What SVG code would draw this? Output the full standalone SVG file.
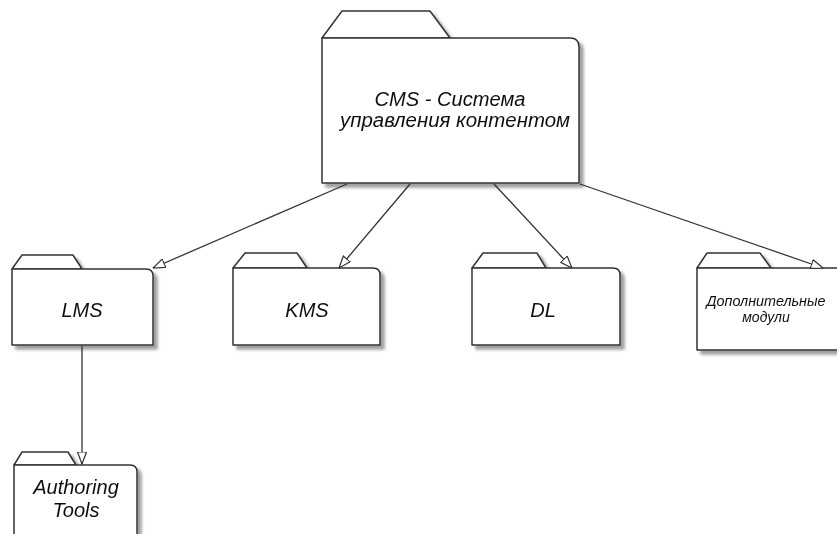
<svg xmlns="http://www.w3.org/2000/svg" width="837" height="534" viewBox="0 0 837 534">
<defs>
<filter id="sh" x="-10%" y="-10%" width="130%" height="130%">
<feGaussianBlur in="SourceAlpha" stdDeviation="1.8" result="b"/>
<feOffset in="b" dx="4" dy="4" result="o"/>
<feFlood flood-color="#777" flood-opacity="0.7"/>
<feComposite in2="o" operator="in" result="s"/>
<feMerge><feMergeNode in="s"/><feMergeNode in="SourceGraphic"/></feMerge>
</filter>
<marker id="arr" viewBox="0 0 13 10" refX="12.5" refY="5" markerWidth="13" markerHeight="10" orient="auto" markerUnits="userSpaceOnUse">
<path d="M0.5,0.5 L12.5,5 L0.5,9.5 Z" fill="#fff" stroke="#333" stroke-width="1.2"/>
</marker>
</defs>
<style>
.f path{fill:#fff;stroke:#333;stroke-width:1.5;stroke-linejoin:round}
.t{font-family:"Liberation Sans",Arial,sans-serif;font-style:italic;fill:#111;text-anchor:middle}
.c line{stroke:#333;stroke-width:1.3}
</style>
<rect width="837" height="534" fill="#fff"/>
<g id="cms" class="f" filter="url(#sh)">
<path d="M322,38 L342,11 L430,11 L450,38 Z"/>
<path d="M322,38 H570 Q579,38 579,47 V183 H322 Z"/>
<text class="t" x="450" y="106" font-size="20" textLength="151" lengthAdjust="spacingAndGlyphs">CMS - Система</text>
<text class="t" x="455" y="127" font-size="20" textLength="230" lengthAdjust="spacingAndGlyphs">управления контентом</text>
</g>
<g id="lms" class="f" filter="url(#sh)">
<path d="M12,269 L22,255 L73,255 L82,269 Z"/>
<path d="M12,269 H146 Q153,269 153,276 V345 H12 Z"/>
<text class="t" x="82" y="317" font-size="20">LMS</text>
</g>
<g id="kms" class="f" filter="url(#sh)">
<path d="M233,268 L245,253 L297,253 L307,268 Z"/>
<path d="M233,268 H373 Q380,268 380,275 V345 H233 Z"/>
<text class="t" x="307" y="317" font-size="20">KMS</text>
</g>
<g id="dl" class="f" filter="url(#sh)">
<path d="M472,268 L483,253 L537,253 L546,268 Z"/>
<path d="M472,268 H613 Q620,268 620,275 V345 H472 Z"/>
<text class="t" x="543" y="317" font-size="20">DL</text>
</g>
<g id="dop" class="f" filter="url(#sh)">
<path d="M697,268 L707,253 L760,253 L771,268 Z"/>
<path d="M697,268 H840 V350 H697 Z"/>
<text class="t" x="766" y="306" font-size="14" textLength="119" lengthAdjust="spacingAndGlyphs">Дополнительные</text>
<text class="t" x="766" y="322" font-size="14">модули</text>
</g>
<g id="authoring" class="f" filter="url(#sh)">
<path d="M14,465 L22,452 L68,452 L76,465 Z"/>
<path d="M14,465 H130 Q137,465 137,472 V545 H14 Z"/>
<text class="t" x="76" y="494" font-size="20">Authoring</text>
<text class="t" x="76" y="517" font-size="20">Tools</text>
</g>
<g id="connectors" class="c">
<line x1="347" y1="184" x2="153" y2="268" marker-end="url(#arr)"/>
<line x1="410" y1="184" x2="339" y2="268" marker-end="url(#arr)"/>
<line x1="494" y1="184" x2="572" y2="268" marker-end="url(#arr)"/>
<line x1="580" y1="184" x2="823" y2="268" marker-end="url(#arr)"/>
<line x1="82" y1="346" x2="82" y2="464" marker-end="url(#arr)"/>
</g>
</svg>
